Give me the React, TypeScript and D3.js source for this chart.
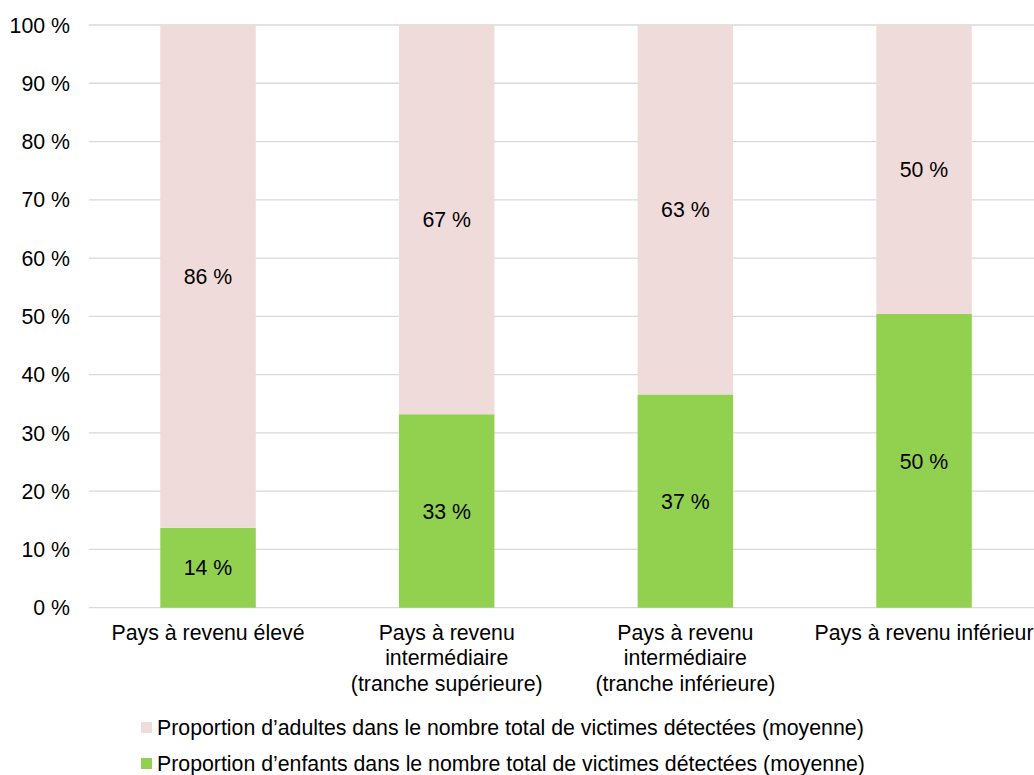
import React from "react";
import * as d3 from "d3";

const categories: string[][] = [
  ["Pays à revenu élevé"],
  ["Pays à revenu", "intermédiaire", "(tranche supérieure)"],
  ["Pays à revenu", "intermédiaire", "(tranche inférieure)"],
  ["Pays à revenu inférieur"],
];
const childrenValues = [13.7, 33.2, 36.6, 50.4];
const adultValues = [86.3, 66.8, 63.4, 49.6];
const childrenLabels = ["14 %", "33 %", "37 %", "50 %"];
const adultLabels = ["86 %", "67 %", "63 %", "50 %"];
const yTicks = [0, 10, 20, 30, 40, 50, 60, 70, 80, 90, 100];
const legendLabels = [
  "Proportion d’adultes dans le nombre total de victimes détectées (moyenne)",
  "Proportion d’enfants dans le nombre total de victimes détectées (moyenne)",
];

const W = 1034;
const H = 775;
const FONT = "'Liberation Sans', Arial, sans-serif";
const FS = 21.3;
const PINK = "#F0DBDB";
const GREEN = "#92D050";

export default function App() {
  const x = d3
    .scaleBand<number>()
    .domain(categories.map((_, i) => i))
    .range([88.7, 88.7 + 4 * 238.67])
    .paddingInner(0.6)
    .paddingOuter(0.3);
  const y = d3.scaleLinear().domain([0, 100]).range([607.7, 25]);
  const bw = x.bandwidth();

  return (
    <svg
      width={W}
      height={H}
      style={{ position: "fixed", left: 0, top: 0, background: "#fff" }}
      fontFamily={FONT}
    >
      <rect x={0} y={0} width={W} height={H} fill="#fff" />
      {yTicks.map((t) => (
        <g key={t}>
          <line x1={88.7} x2={W} y1={y(t)} y2={y(t)} stroke="#D9D9D9" strokeWidth={1.3} />
          <text x={70} y={y(t)} dy="0.36em" textAnchor="end" fontSize={FS} fill="#000">
            {`${t} %`}
          </text>
        </g>
      ))}
      {categories.map((c, i) => {
        const x0 = x(i)!;
        const cx = x0 + bw / 2;
        const c0 = y(childrenValues[i]);
        const a1 = y(childrenValues[i] + adultValues[i]);
        return (
          <g key={i}>
            <rect x={x0} y={c0} width={bw} height={y(0) - c0} fill={GREEN} />
            <rect x={x0} y={a1} width={bw} height={c0 - a1} fill={PINK} />
            <text x={cx} y={(y(0) + c0) / 2} dy="0.36em" textAnchor="middle" fontSize={FS}>
              {childrenLabels[i]}
            </text>
            <text x={cx} y={(c0 + a1) / 2} dy="0.36em" textAnchor="middle" fontSize={FS}>
              {adultLabels[i]}
            </text>
            <text x={cx} y={640} textAnchor="middle" fontSize={FS}>
              {c.map((line, j) => (
                <tspan key={j} x={cx} dy={j === 0 ? 0 : 25.4}>
                  {line}
                </tspan>
              ))}
            </text>
          </g>
        );
      })}
      {legendLabels.map((l, i) => (
        <g key={i}>
          <rect x={141} y={722 + i * 36} width={11} height={11} fill={i === 0 ? PINK : GREEN} />
          <text x={157} y={735 + i * 36} fontSize={FS}>
            {l}
          </text>
        </g>
      ))}
    </svg>
  );
}
